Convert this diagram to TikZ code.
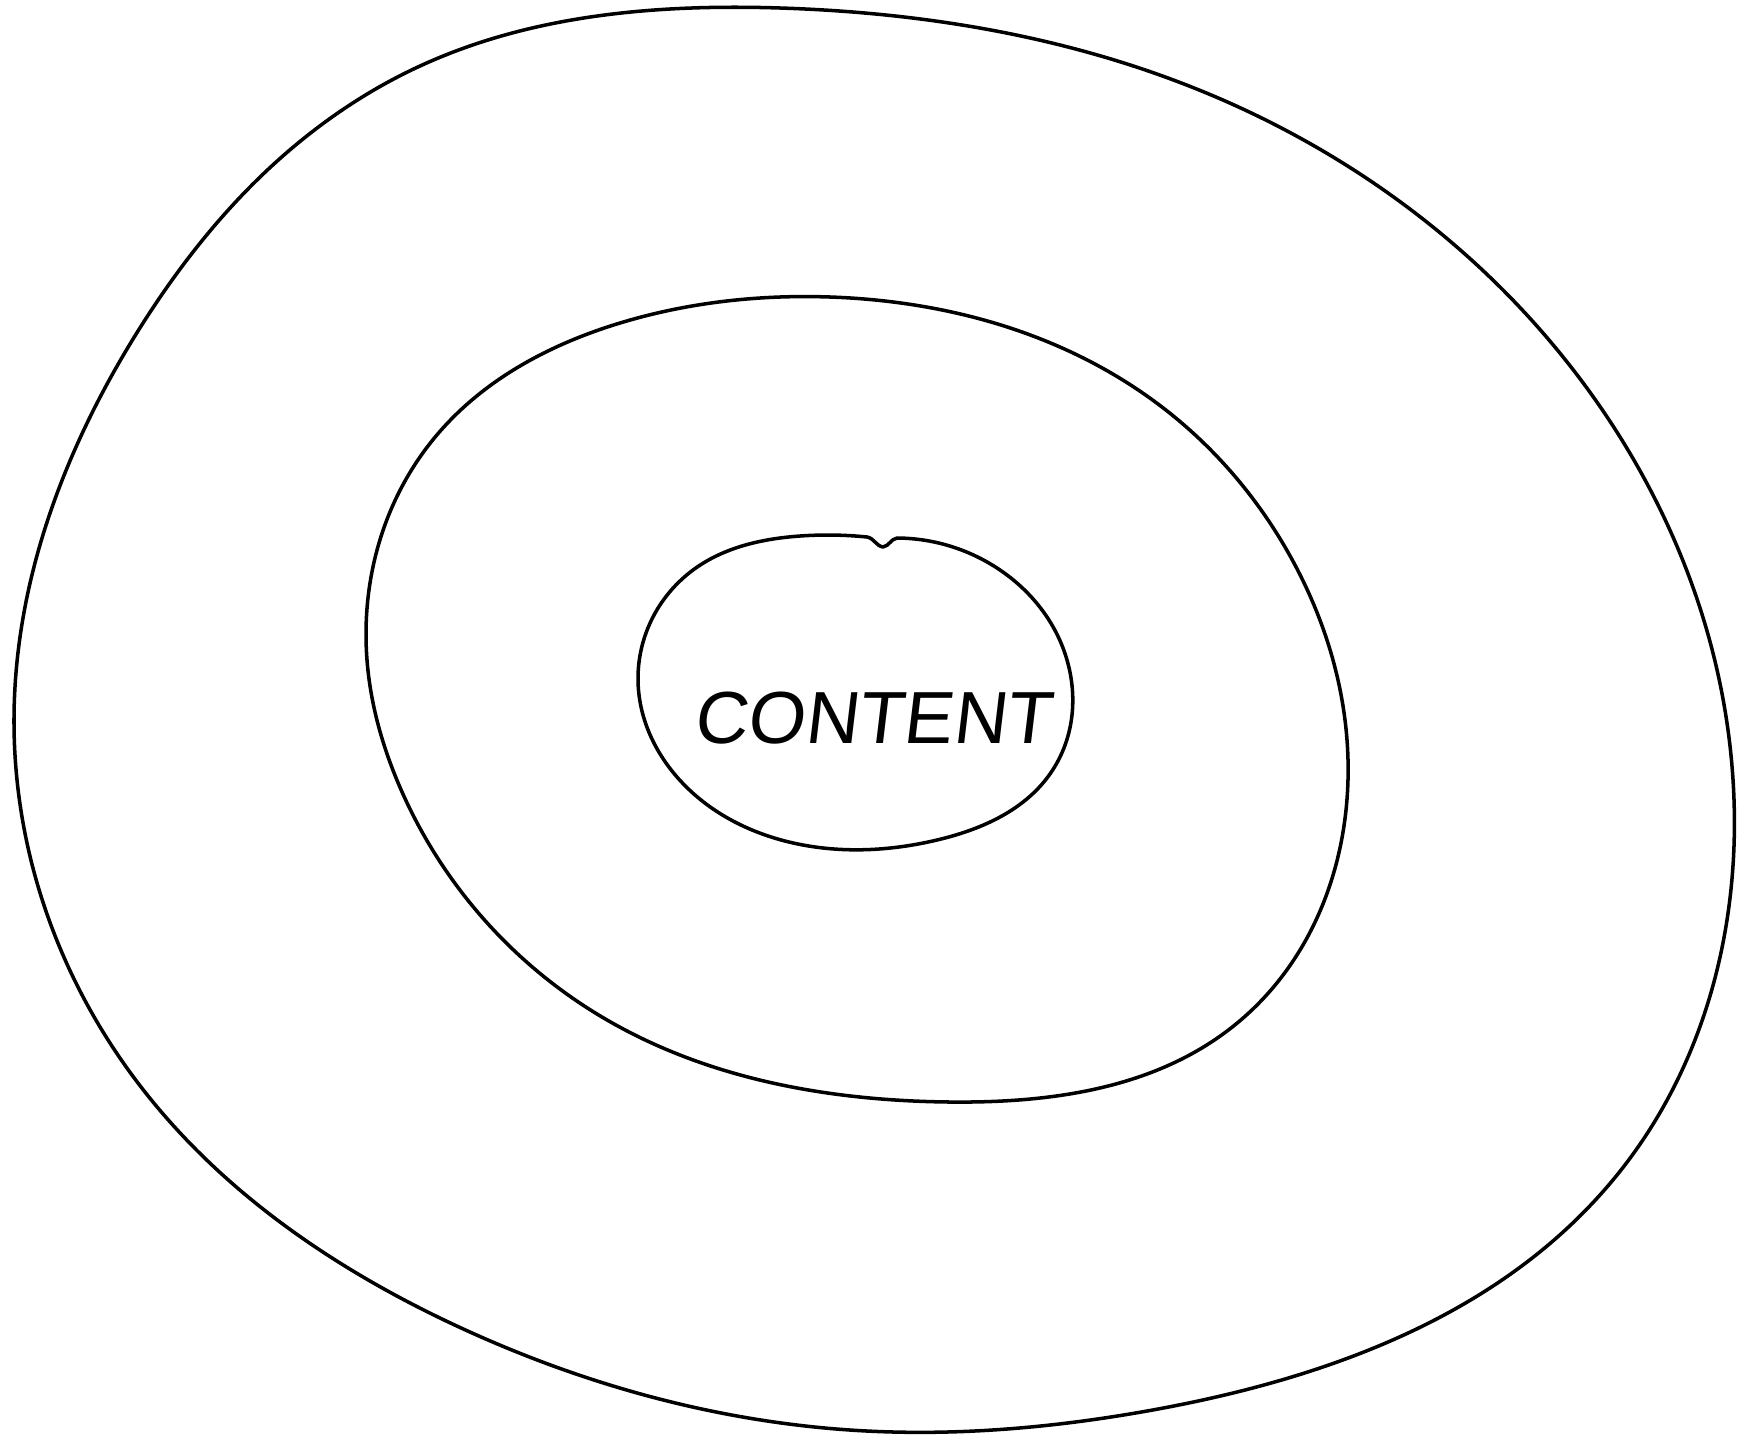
\documentclass[tikz,border=0pt]{standalone}
\usepackage{fontspec}
\newfontfamily\handfont[FakeSlant=0.12]{Liberation Sans}
\usetikzlibrary{positioning, hobby}

\begin{document}
\begin{tikzpicture}[
      x=0.01cm, y=-0.01cm,
      ring/.style={draw, line width=1pt, line join=round, line cap=round, use Hobby shortcut},
      lbl/.style={font=\handfont\fontsize{21}{21}\selectfont, inner sep=0pt}]

    \useasboundingbox (0,0) rectangle (1740,1436);

    % outer ring
    \draw[ring, closed=true] (14,720) .. (138,331) .. (275,163) .. (420,66)
      .. (780,8) .. (1204,92) .. (1571,367) .. (1734,800) .. (1617,1175)
      .. (1158,1409) .. (850,1430) .. (459,1327) .. (138,1083);

    % middle ring
    \draw[ring, closed=true] (367,660) .. (436,436) .. (620,323) .. (830,297)
      .. (1158,404) .. (1295,565) .. (1348,760) .. (1236,1024) .. (950,1102)
      .. (597,1014) .. (399,785);

    % inner ring, with the small dent on top
    \draw[ring] (897,538) .. (1000,570) .. (1061,643) .. (1052,771) .. (937,840)
      .. (803,845) .. (677,777) .. (638,680) .. (693,570) .. (800,536)
      .. (867,537) to[out=-10, in=170] (883,547) to[out=10, in=190] (897,538);

    \node[lbl] (content) at (872,718) {CONTENT};
  \end{tikzpicture}
\end{document}
